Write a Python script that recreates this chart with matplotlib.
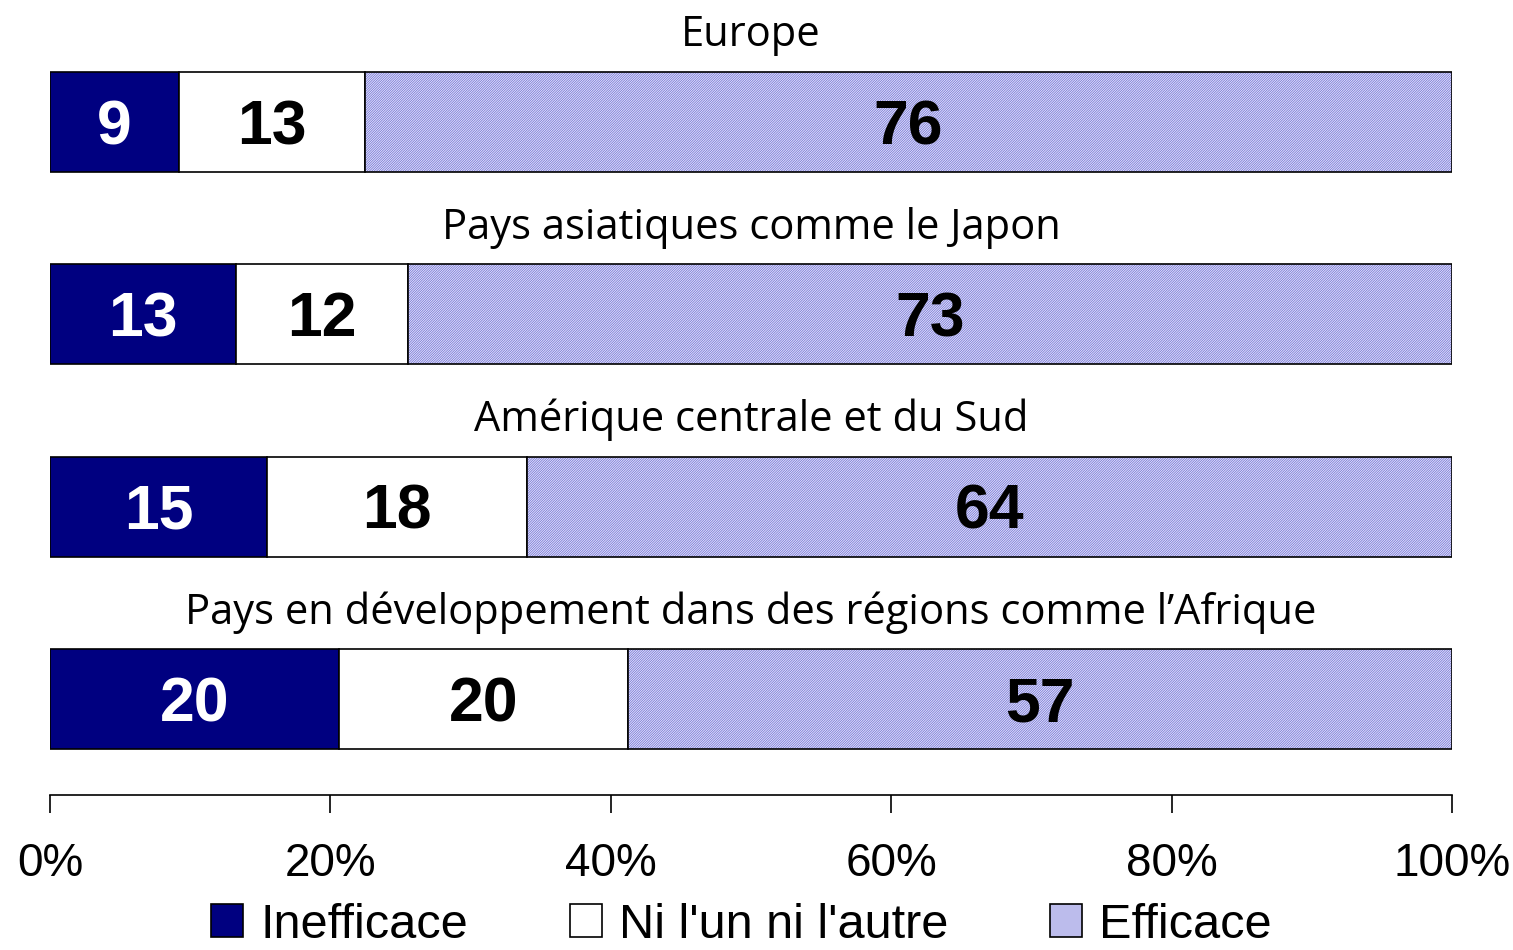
import matplotlib
matplotlib.use("Agg")
import matplotlib.pyplot as plt
from matplotlib.patches import Patch
import numpy as np

regions = ["Europe", "Pays asiatiques comme le Japon", "Amérique centrale et du Sud",
           "Pays en développement dans des régions comme l\u2019Afrique"]
inefficace = [9, 13, 15, 20]
ni_lun = [13, 12, 18, 20]
efficace = [76, 73, 64, 57]
series_names = ["Inefficace", "Ni l'un ni l'autre", "Efficace"]
xticks = [0, 20, 40, 60, 80, 100]
xticklabels = ["0%", "20%", "40%", "60%", "80%", "100%"]

navy = "#000080"
hatch_col = "#6a6ad8"
plt.rcParams['hatch.linewidth'] = 0.5

fig = plt.figure(figsize=(15.13, 9.5), dpi=100)
ax = fig.add_axes([50/1513, 155/950, 1402/1513, 795/950])

vals = np.array([inefficace, ni_lun, efficace], dtype=float)
tot = vals.sum(axis=0)
pct = vals / tot * 100
y = np.arange(len(regions))
h = 0.52
left = np.zeros(len(regions))
label_colors = ["white", "black", "black"]
for k in range(3):
    if k == 0:
        ax.barh(y, pct[k], left=left, height=h, color=navy, edgecolor="black", linewidth=1.2)
    elif k == 1:
        ax.barh(y, pct[k], left=left, height=h, color="white", edgecolor="black", linewidth=1.2)
    else:
        ax.barh(y, pct[k], left=left, height=h, color="#e4e4f6", edgecolor=hatch_col,
                linewidth=0, hatch="/" * 14)
        ax.barh(y, pct[k], left=left, height=h, fill=False, edgecolor="black", linewidth=1.2)
    for i in range(len(regions)):
        ax.text(left[i] + pct[k][i] / 2, y[i] + 0.03, str(int(vals[k][i])), ha="center", va="center",
                fontsize=45, fontweight="bold", color=label_colors[k], family="Liberation Sans")
    left += pct[k]

for i, r in enumerate(regions):
    ax.text(50, y[i] - h / 2 - 0.19, r, ha="center", va="center", fontsize=30,
            family="Open Sans", color="black")

ax.set_xlim(0, 100)
ax.set_ylim(3.5, -0.634)
for s in ["top", "right", "left"]:
    ax.spines[s].set_visible(False)
ax.spines["bottom"].set_linewidth(1.2)
ax.set_yticks([])
ax.set_xticks(xticks)
ax.set_xticklabels(xticklabels, fontsize=33, family="Liberation Sans")
ax.tick_params(axis="x", direction="out", length=13, width=1.2, pad=21)

handles = [Patch(facecolor=navy, edgecolor="black", linewidth=1.2),
           Patch(facecolor="white", edgecolor="black", linewidth=1.2),
           Patch(facecolor="#bcbcec", edgecolor="black", linewidth=1.2)]
fig.legend(handles, series_names, loc="lower center", bbox_to_anchor=(0.49, 0.0), ncol=3,
           frameon=False, prop={"family": "Liberation Sans", "size": 35},
           handlelength=0.65, handleheight=0.65, handletextpad=0.35, columnspacing=2.1,
           borderaxespad=0, borderpad=0.05)

fig.savefig("out.png", dpi=100)
